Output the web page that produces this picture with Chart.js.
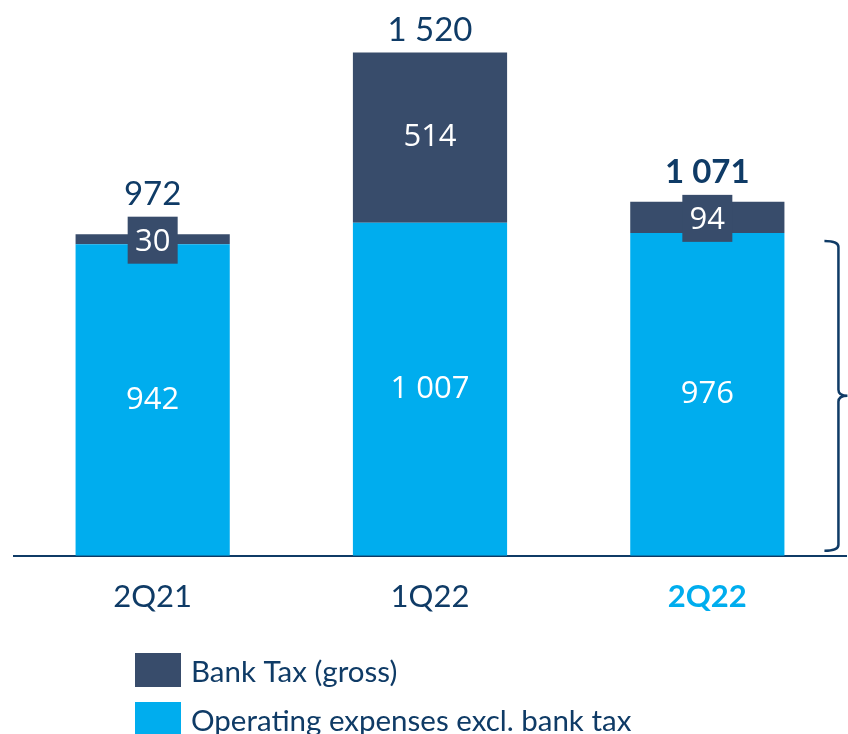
<!DOCTYPE html>
<html>
<head>
<meta charset="utf-8">
<script src="https://cdn.jsdelivr.net/npm/chart.js@4.4.0/dist/chart.umd.min.js"></script>
<style>
  html, body { margin: 0; padding: 0; background: #fff; }
  #wrap { width: 848px; height: 734px; position: relative; }
</style>
</head>
<body>
<div id="wrap"><canvas id="opexChart"></canvas></div>
<script>
// Datos
const quarters = ['2Q21', '1Q22', '2Q22'];
const opexExBankTax = [942, 1007, 976];
const bankTax = [30, 514, 94];
const totals = [972, 1520, 1071];
const seriesNames = ['Bank Tax (gross)', 'Operating expenses excl. bank tax'];

const NAVY = '#0f3b66';
const DARK = '#384c6b';
const LIGHT = '#00adee';
const FONT = 'Lato, "Open Sans", sans-serif';

function fmt(v) {
  return String(v).replace(/\B(?=(\d{3})+(?!\d))/g, ' ');
}

// Etiquetas, llave y leyenda dibujadas a mano
const labelsPlugin = {
  id: 'labelsPlugin',
  afterDatasetsDraw(chart) {
    const ctx = chart.ctx;
    const opexMeta = chart.getDatasetMeta(0);
    const taxMeta = chart.getDatasetMeta(1);
    ctx.save();
    ctx.textAlign = 'center';
    ctx.textBaseline = 'middle';

    opexMeta.data.forEach((bar, i) => {
      ctx.fillStyle = '#fff';
      ctx.font = '31px "Open Sans", sans-serif';
      ctx.fillText(fmt(opexExBankTax[i]), bar.x, (bar.y + bar.base) / 2);
    });

    taxMeta.data.forEach((bar, i) => {
      const h = bar.base - bar.y;
      const mid = (bar.y + bar.base) / 2;
      let top = bar.y;
      let textY = mid;
      if (h < 45) {
        // caja oscura para segmentos finos
        const bw = 50, bh = 47;
        top = mid + 1 - bh / 2;
        ctx.fillStyle = DARK;
        ctx.fillRect(bar.x - bw / 2, top, bw, bh);
        textY = mid + 3;
      }
      ctx.fillStyle = '#fff';
      ctx.font = '31px "Open Sans", sans-serif';
      ctx.fillText(fmt(bankTax[i]), bar.x, textY);

      ctx.fillStyle = NAVY;
      ctx.font = (i === 2 ? 'bold ' : '') + '33px ' + FONT;
      ctx.fillText(fmt(totals[i]), bar.x, top - 22);
    });

    // llave a la derecha del último trimestre
    const last = opexMeta.data[2];
    const y = chart.scales.y;
    const x0 = last.x + last.width / 2 + 40;
    const x1 = x0 + 14;
    const tip = x0 + 23;
    const yTop = y.getPixelForValue(opexExBankTax[2]) + 8;
    const yBot = y.getPixelForValue(0) - 5;
    const yMid = (yTop + yBot) / 2;
    ctx.strokeStyle = NAVY;
    ctx.lineWidth = 2.5;
    ctx.beginPath();
    ctx.moveTo(x0, yTop);
    ctx.quadraticCurveTo(x1, yTop, x1, yTop + 6);
    ctx.lineTo(x1, yMid - 6);
    ctx.quadraticCurveTo(x1, yMid, tip, yMid);
    ctx.quadraticCurveTo(x1, yMid, x1, yMid + 6);
    ctx.lineTo(x1, yBot - 6);
    ctx.quadraticCurveTo(x1, yBot, x0, yBot);
    ctx.stroke();
    ctx.restore();
  },
  afterDraw(chart) {
    const ctx = chart.ctx;
    const items = [
      { text: seriesNames[0], color: chart.data.datasets[1].backgroundColor, y: 653 },
      { text: seriesNames[1], color: chart.data.datasets[0].backgroundColor, y: 702 }
    ];
    ctx.save();
    ctx.textAlign = 'left';
    ctx.textBaseline = 'middle';
    ctx.font = '29.5px ' + FONT;
    items.forEach(it => {
      ctx.fillStyle = it.color;
      ctx.fillRect(135, it.y, 46, 34);
      ctx.fillStyle = NAVY;
      ctx.fillText(it.text, 191, it.y + 19);
    });
    ctx.restore();
  }
};

new Chart(document.getElementById('opexChart'), {
  type: 'bar',
  data: {
    labels: quarters,
    datasets: [
      {
        label: seriesNames[1],
        data: opexExBankTax,
        backgroundColor: LIGHT,
        barPercentage: 0.556,
        categoryPercentage: 1
      },
      {
        label: seriesNames[0],
        data: bankTax,
        backgroundColor: DARK,
        barPercentage: 0.556,
        categoryPercentage: 1
      }
    ]
  },
  options: {
    responsive: true,
    maintainAspectRatio: false,
    animation: false,
    layout: { padding: { left: 14, right: 2, top: 0, bottom: 95 } },
    plugins: {
      legend: { display: false },
      tooltip: { enabled: false }
    },
    scales: {
      x: {
        stacked: true,
        grid: { display: false, drawTicks: false },
        border: { color: NAVY, width: 2 },
        ticks: {
          padding: 23,
          color: (c) => c.index === 2 ? LIGHT : NAVY,
          font: (c) => ({ family: FONT, size: 31, weight: c.index === 2 ? 'bold' : 'normal' })
        }
      },
      y: {
        stacked: true,
        display: false,
        min: 0,
        max: 1680
      }
    }
  },
  plugins: [labelsPlugin]
});
</script>
</body>
</html>
